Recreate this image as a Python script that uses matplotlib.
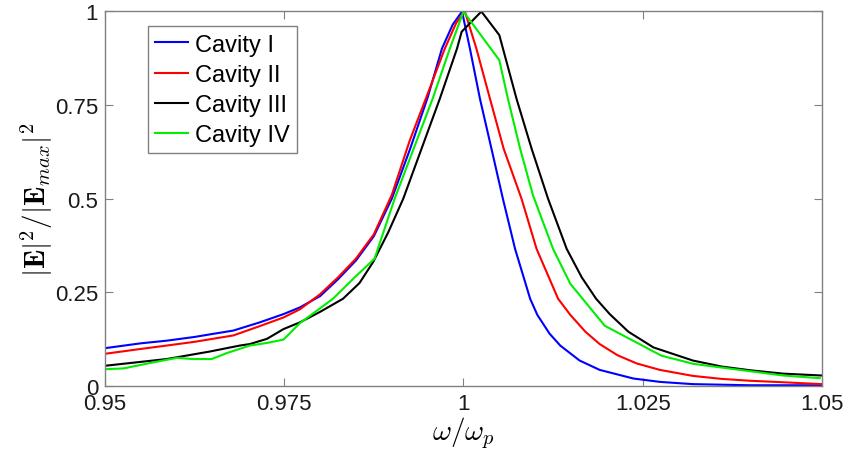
import matplotlib
matplotlib.use("Agg")
import matplotlib.pyplot as plt

# ---- data ----
x_blue = [0.95, 0.955, 0.9586, 0.9625, 0.965, 0.9679, 0.9716, 0.9749, 0.9772, 0.98,
          0.9825, 0.985, 0.9875, 0.99, 0.9925, 0.995, 0.997, 0.9985, 0.9998,
          1.0009, 1.0023, 1.0039, 1.0055, 1.0072, 1.0093, 1.0103, 1.012, 1.0135,
          1.0162, 1.019, 1.0237, 1.0274, 1.032, 1.04, 1.05]
y_blue = [0.101, 0.114, 0.121, 0.131, 0.139, 0.148, 0.170, 0.192, 0.210, 0.240,
          0.285, 0.335, 0.40, 0.50, 0.63, 0.77, 0.901, 0.965, 1.0,
          0.901, 0.767, 0.634, 0.5, 0.366, 0.233, 0.190, 0.140, 0.108,
          0.068, 0.043, 0.020, 0.011, 0.005, 0.002, 0.002]

x_red = [0.95, 0.955, 0.9586, 0.9625, 0.9679, 0.9716, 0.9749, 0.9772, 0.98,
         0.9825, 0.985, 0.9875, 0.99, 0.9925, 0.995, 0.9974, 0.999, 1.0002,
         1.0018, 1.0037, 1.0056, 1.0081, 1.0102, 1.0132, 1.0149, 1.017, 1.019,
         1.0215, 1.0242, 1.0274, 1.032, 1.036, 1.04, 1.0446, 1.05]
y_red = [0.086, 0.099, 0.108, 0.118, 0.135, 0.160, 0.183, 0.205, 0.245,
         0.29, 0.34, 0.405, 0.51, 0.655, 0.78, 0.901, 0.97, 1.0,
         0.901, 0.767, 0.634, 0.5, 0.366, 0.233, 0.190, 0.145, 0.112,
         0.082, 0.060, 0.043, 0.027, 0.019, 0.014, 0.010, 0.005]

x_black = [0.95, 0.9586, 0.9646, 0.9688, 0.9702, 0.9726, 0.9749, 0.9772, 0.98,
           0.9832, 0.9855, 0.9874, 0.9895, 0.9916, 0.9967, 0.9991, 0.99975,
           1.0025, 1.005, 1.0074, 1.0095, 1.0118, 1.0144, 1.0165, 1.0185,
           1.0204, 1.023, 1.0265, 1.032, 1.036, 1.04, 1.0446, 1.05]
y_black = [0.054, 0.072, 0.092, 0.108, 0.112, 0.126, 0.152, 0.170, 0.198,
           0.233, 0.275, 0.331, 0.41, 0.5, 0.767, 0.901, 0.946,
           1.0, 0.937, 0.767, 0.634, 0.5, 0.366, 0.29, 0.233,
           0.192, 0.145, 0.103, 0.068, 0.052, 0.042, 0.033, 0.028]

x_green = [0.9502, 0.9526, 0.9567, 0.96, 0.9623, 0.9649, 0.967, 0.9702, 0.9726,
           0.9749, 0.9772, 0.9818, 0.9846, 0.9876, 0.9904, 0.9957, 0.9981, 1.0,
           1.005, 1.0062, 1.0079, 1.0097, 1.0125, 1.0149, 1.0197, 1.0276,
           1.0321, 1.0446, 1.0497]
y_green = [0.045, 0.047, 0.063, 0.075, 0.072, 0.072, 0.088, 0.108, 0.115,
           0.124, 0.168, 0.233, 0.286, 0.340, 0.5, 0.767, 0.901, 1.0,
           0.870, 0.767, 0.634, 0.509, 0.366, 0.273, 0.161, 0.081,
           0.059, 0.028, 0.021]

labels = ["Cavity I", "Cavity II", "Cavity III", "Cavity IV"]
colors = ["#0000ff", "#ff0000", "#000000", "#00ee00"]

xticks = [0.95, 0.975, 1.0, 1.025, 1.05]
xticklabels = ["0.95", "0.975", "1", "1.025", "1.05"]
yticks = [0, 0.25, 0.5, 0.75, 1]
yticklabels = ["0", "0.25", "0.5", "0.75", "1"]

plt.rcParams["font.family"] = ["Liberation Sans", "DejaVu Sans"]
plt.rcParams["mathtext.fontset"] = "cm"

fig = plt.figure(figsize=(8.5, 4.56), dpi=100)
ax = fig.add_axes([0.1235, 0.1513, 0.8435, 0.8213])

for xs, ys, lab, c in zip([x_blue, x_red, x_black, x_green],
                          [y_blue, y_red, y_black, y_green], labels, colors):
    ax.plot(xs, ys, color=c, lw=1.5, label=lab)

ax.set_xlim(0.95, 1.05)
ax.set_ylim(0, 1)
ax.set_xticks(xticks)
ax.set_xticklabels(xticklabels)
ax.set_yticks(yticks)
ax.set_yticklabels(yticklabels)
ax.tick_params(direction="in", length=6, width=0.8, color="#808080",
               top=True, right=True, labelsize=16, labelcolor="#1a1a1a", pad=5)
for s in ax.spines.values():
    s.set_color("#808080")
    s.set_linewidth(1.0)

ax.set_xlabel(r"$\omega/\omega_p$", fontsize=21, labelpad=0)
ax.set_ylabel(r"$|\mathbf{E}|^2/|\mathbf{E}_{max}|^2$", fontsize=21, labelpad=0)

leg = ax.legend(loc="upper left", bbox_to_anchor=(0.06, 0.96), fontsize=17,
                fancybox=False, framealpha=1, edgecolor="#808080",
                handlelength=1.4, handletextpad=0.3, borderpad=0.3,
                labelspacing=0.35, borderaxespad=0)
leg.get_frame().set_linewidth(1.0)

fig.savefig("out.png", dpi=100)
